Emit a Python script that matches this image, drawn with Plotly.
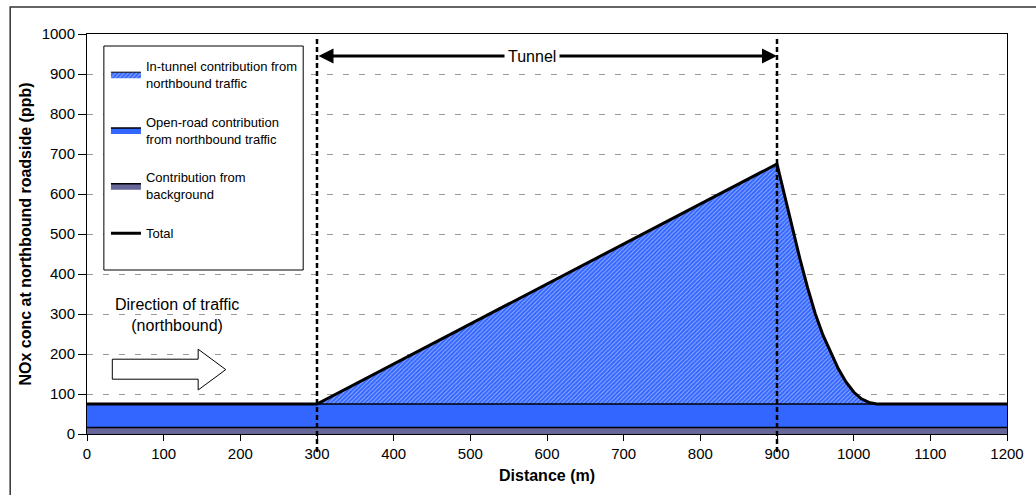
import plotly.graph_objects as go
import numpy as np

# ---- data ----
distance = [0, 300, 900, 910, 920, 930, 940, 950, 960, 970, 980, 990, 1000, 1010, 1020, 1030, 1200]
background = [16, 16, 16, 16, 16, 16, 16, 16, 16, 16, 16, 16, 16, 16, 16, 16, 16]
open_road = [59, 59, 59, 59, 59, 59, 59, 59, 59, 59, 59, 59, 59, 59, 59, 59, 59]
in_tunnel = [0, 0, 600, 520, 440, 362, 290, 225, 172, 128, 88, 55, 30, 13, 4, 0, 0]

tunnel_start, tunnel_end = 300, 900
x_ticks = list(range(0, 1201, 100))
y_ticks = list(range(0, 1001, 100))
XMIN, XMAX = 0, 1200
YMIN, YMAX = 0, 1000

bg = np.array(background, dtype=float)
op = bg + np.array(open_road, dtype=float)
tot = op + np.array(in_tunnel, dtype=float)

FONT = "Arial, Liberation Sans, sans-serif"

fig = go.Figure()

fig.add_trace(go.Scatter(
    x=distance, y=bg, mode="lines", fill="tozeroy",
    fillcolor="#666699", line=dict(color="black", width=1.5),
    name="Contribution from<br>background", legendgroup="c", legendrank=3,
    hoverinfo="skip"))
fig.add_trace(go.Scatter(
    x=distance, y=op, mode="lines", fill="tonexty",
    fillcolor="#3366FF", line=dict(color="black", width=1.5),
    name="Open-road contribution<br>from northbound traffic", legendgroup="b", legendrank=2,
    hoverinfo="skip"))
fig.add_trace(go.Scatter(
    x=distance, y=tot, mode="lines", fill="tonexty",
    fillcolor="#3366FF",
    fillpattern=dict(shape="/", bgcolor="#3366FF", fgcolor="white", size=3, solidity=0.3),
    line=dict(color="black", width=1),
    name="In-tunnel contribution from<br>northbound traffic", legendgroup="a", legendrank=1,
    hoverinfo="skip"))
fig.add_trace(go.Scatter(
    x=distance, y=tot, mode="lines",
    line=dict(color="black", width=3),
    name="Total", legendgroup="d", legendrank=4,
    hoverinfo="skip"))

def xdom(v):
    return (v - XMIN) / (XMAX - XMIN)

shapes = []
# outer chart border
shapes.append(dict(type="rect", xref="paper", yref="paper", x0=-0.0835, x1=1.1, y0=-0.3, y1=1.0675,
                   line=dict(color="#333333", width=1.5), fillcolor="rgba(0,0,0,0)", layer="below"))
# legend box
shapes.append(dict(type="rect", xref="x", yref="y", x0=22, x1=282, y0=410, y1=970,
                   line=dict(color="black", width=1), fillcolor="white", layer="above"))
# tunnel boundaries
for v in (tunnel_start, tunnel_end):
    shapes.append(dict(type="line", xref="x domain", yref="y domain",
                       x0=xdom(v), x1=xdom(v), y0=-0.045, y1=0.995,
                       line=dict(color="black", width=2.5, dash="5px,3px"), layer="above"))
# direction-of-traffic block arrow
shapes.append(dict(type="path", xref="x", yref="y",
                   path="M33,137 L145,137 L145,110 L181,161 L145,212 L145,187 L33,187 Z",
                   line=dict(color="black", width=1), fillcolor="white", layer="above"))

annotations = [
    dict(x=tunnel_end, y=945, ax=tunnel_start, ay=945, xref="x", yref="y", axref="x", ayref="y",
         text="", showarrow=True, arrowhead=2, arrowside="end+start", arrowwidth=3,
         arrowsize=1, arrowcolor="black", standoff=0, startstandoff=0),
    dict(x=580, y=945, xref="x", yref="y", text="Tunnel", showarrow=False,
         bgcolor="white", borderpad=3, font=dict(family=FONT, size=16, color="black")),
    dict(x=118, y=297, xref="x", yref="y", text="Direction of traffic<br>(northbound)",
         showarrow=False, align="center", font=dict(family=FONT, size=16, color="black")),
]

fig.update_layout(
    width=1036, height=495, autosize=False,
    margin=dict(l=87, r=27, t=34, b=61),
    plot_bgcolor="white", paper_bgcolor="white",
    font=dict(family=FONT, color="black"),
    showlegend=True,
    legend=dict(x=0.0206, y=0.958, xanchor="left", yanchor="top",
                bgcolor="rgba(0,0,0,0)", borderwidth=0,
                font=dict(family=FONT, size=13, color="black"),
                traceorder="grouped", tracegroupgap=19, itemwidth=30),
    shapes=shapes, annotations=annotations,
    xaxis=dict(range=[XMIN, XMAX], tickvals=x_ticks, ticks="outside", ticklen=6,
               tickcolor="black", showline=True, linecolor="black", linewidth=1, mirror=True,
               showgrid=False, zeroline=False,
               tickfont=dict(family=FONT, size=15, color="black"),
               title=dict(text="<b>Distance (m)</b>", font=dict(family=FONT, size=16, color="black"),
                          standoff=8)),
    yaxis=dict(range=[YMIN, YMAX], tickvals=y_ticks, ticks="outside", ticklen=8,
               tickcolor="black", showline=True, linecolor="black", linewidth=1, mirror=True,
               showgrid=True, gridcolor="#999999", griddash="6px,10px", gridwidth=1,
               zeroline=False,
               tickfont=dict(family=FONT, size=15, color="black"),
               title=dict(text="<b>NOx conc at northbound roadside (ppb)</b>",
                          font=dict(family=FONT, size=16, color="black"), standoff=6)),
)

fig.write_html("out.html")
